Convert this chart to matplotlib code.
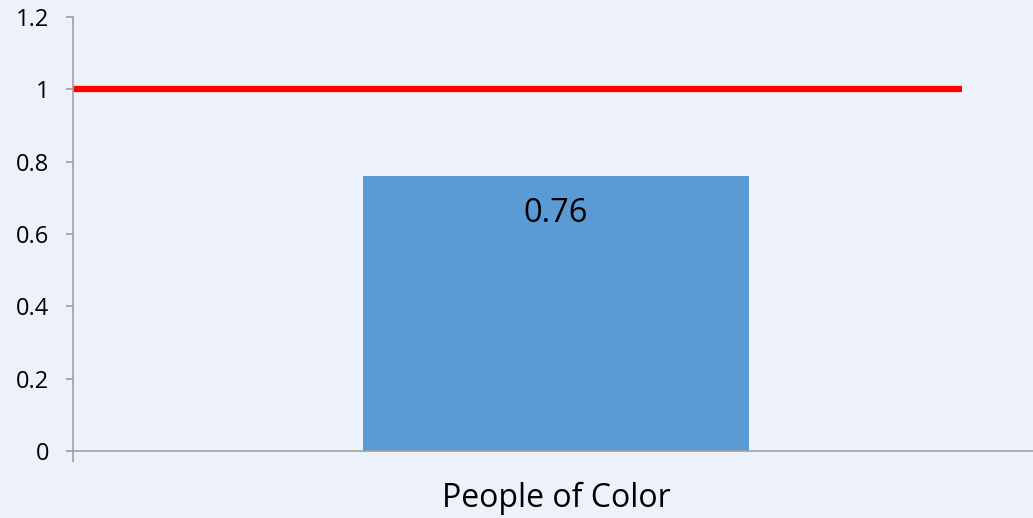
import matplotlib
matplotlib.use("Agg")
import matplotlib.pyplot as plt

categories = ["People of Color"]
values = [0.76]
reference_value = 1.0
yticks = [0, 0.2, 0.4, 0.6, 0.8, 1, 1.2]
ytick_labels = ["0", "0.2", "0.4", "0.6", "0.8", "1", "1.2"]

plt.rcParams['font.family'] = ['Open Sans', 'DejaVu Sans']

bg = "#EDF1F9"
fig = plt.figure(figsize=(10.33, 5.18), dpi=100, facecolor=bg)
ax = fig.add_axes([73/1033, 1 - 451/518, 966/1033, 434/518])
ax.set_facecolor(bg)

x = list(range(len(categories)))
ax.bar(x, values, width=0.4, color="#5B9BD5", zorder=2)
for xi, v in zip(x, values):
    ax.text(xi, v - 0.058, f"{v:.2f}", ha="center", va="top", fontsize=23.5, color="black", zorder=3)

ax.plot([-0.5, 0.42], [reference_value, reference_value], color="#FF0000", lw=4.5,
        solid_capstyle="butt", zorder=4)

ax.set_xlim(-0.5, 0.5)
ax.set_ylim(0, 1.2)
ax.set_yticks(yticks)
ax.set_yticklabels(ytick_labels, fontsize=17)
ax.set_xticks(x)
ax.set_xticklabels(categories, fontsize=23)
ax.set_xticks([-0.5], minor=True)
ax.tick_params(axis="x", which="major", length=0, pad=22)
ax.tick_params(axis="x", which="minor", length=8, color="#A0A0A0", width=1.2)
ax.tick_params(axis="y", length=5, color="#A0A0A0", width=1.2, pad=12)

for s in ["top", "right"]:
    ax.spines[s].set_visible(False)
for s in ["left", "bottom"]:
    ax.spines[s].set_color("#A0A0A0")
    ax.spines[s].set_linewidth(1.2)
ax.spines["left"].set_zorder(5)

fig.savefig("out.png", dpi=100, facecolor=bg)
